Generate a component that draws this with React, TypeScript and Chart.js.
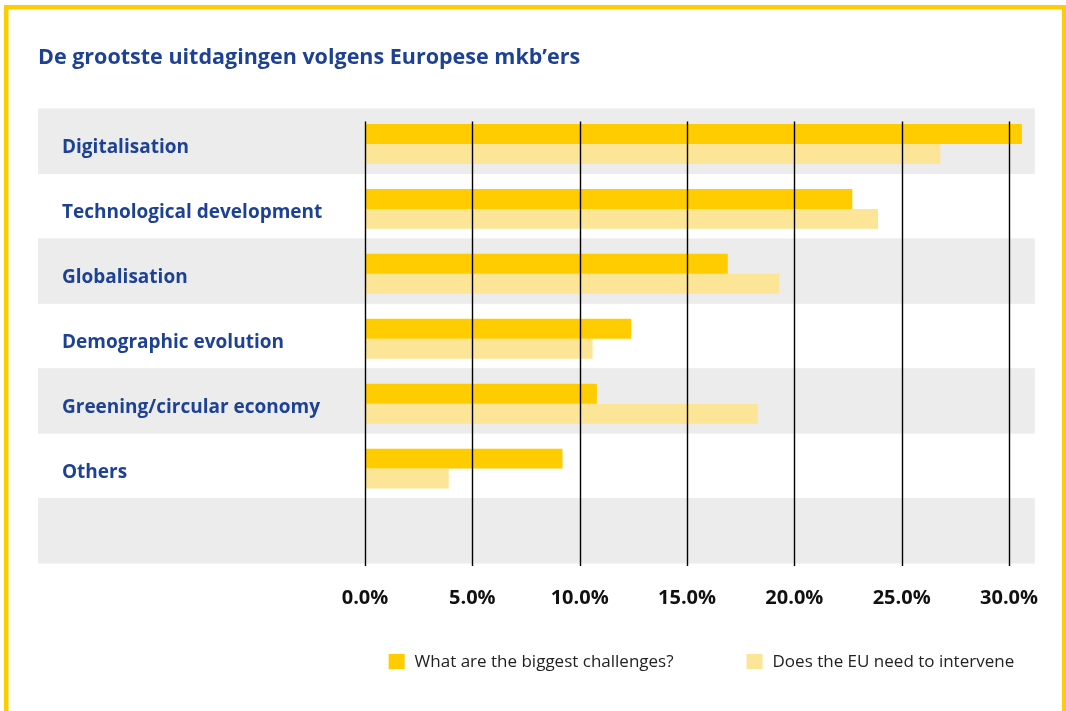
import React, { useEffect, useRef } from 'react';
import { Chart, registerables } from 'chart.js';

Chart.register(...registerables);

const TITLE = 'De grootste uitdagingen volgens Europese mkb’ers';
const categories = [
  'Digitalisation',
  'Technological development',
  'Globalisation',
  'Demographic evolution',
  'Greening/circular economy',
  'Others',
  '',
];
const challengeLabel = 'What are the biggest challenges?';
const interveneLabel = 'Does the EU need to intervene';
const challenges = [30.6, 22.7, 16.9, 12.4, 10.8, 9.2, null];
const intervene = [26.8, 23.9, 19.3, 10.6, 18.3, 3.9, null];
const xMin = 0;
const xMax = 31.2;
const xStep = 5;

const BLUE = '#1d4194';
const YELLOW = '#FFCC00';
const LIGHT = '#FDE597';
const BAND = '#ECECEC';
const FONT = '"Open Sans", "DejaVu Sans", sans-serif';

export default function App() {
  const ref = useRef<HTMLCanvasElement>(null);

  useEffect(() => {
    if (!ref.current) return;

    const decor = {
      id: 'decor',
      beforeDraw(chart: any) {
        const { ctx, chartArea, scales } = chart;
        const y = scales.y;
        ctx.save();
        ctx.fillStyle = '#ffffff';
        ctx.fillRect(0, 0, chart.width, chart.height);
        // frame
        ctx.strokeStyle = YELLOW;
        ctx.lineWidth = 4.5;
        ctx.strokeRect(6.25, 7.25, 1058, 800);
        // title
        ctx.fillStyle = BLUE;
        ctx.font = `bold 21.5px ${FONT}`;
        ctx.textAlign = 'left';
        ctx.textBaseline = 'middle';
        ctx.fillText(TITLE, 38, 58);
        // alternating bands
        ctx.fillStyle = BAND;
        categories.forEach((_, i) => {
          if (i % 2 === 0) {
            const cy = y.getPixelForValue(i);
            ctx.fillRect(38, cy - 35.5, chartArea.right - 38, 65.5);
          }
        });
        ctx.restore();
      },
      afterDatasetsDraw(chart: any) {
        const { ctx, chartArea, scales } = chart;
        const x = scales.x;
        ctx.save();
        ctx.strokeStyle = '#000';
        ctx.lineWidth = 1.4;
        x.ticks.forEach((t: any) => {
          const px = Math.round(x.getPixelForValue(t.value)) + 0.5;
          ctx.beginPath();
          ctx.moveTo(px, chartArea.top + 10);
          ctx.lineTo(px, chartArea.bottom);
          ctx.stroke();
        });
        ctx.restore();
      },
      afterDraw(chart: any) {
        const { ctx, chartArea } = chart;
        const items = chart.data.datasets.map((d: any) => ({ text: d.label, color: d.backgroundColor }));
        ctx.save();
        ctx.font = `17px ${FONT}`;
        ctx.textBaseline = 'middle';
        ctx.textAlign = 'left';
        const boxW = 16;
        const boxH = 15;
        const gap = 10;
        const itemGap = 73;
        const widths = items.map((it: any) => boxW + gap + ctx.measureText(it.text).width);
        const total = widths.reduce((a: number, b: number) => a + b, 0) + itemGap * (items.length - 1);
        let cx = (chartArea.left + chartArea.right) / 2 + 1.5 - total / 2;
        const cy = 661.5;
        items.forEach((it: any, i: number) => {
          ctx.fillStyle = it.color;
          ctx.fillRect(cx, cy - boxH / 2, boxW, boxH);
          ctx.fillStyle = '#222';
          ctx.fillText(it.text, cx + boxW + gap, cy + 1);
          cx += widths[i] + itemGap;
        });
        ctx.restore();
      },
    };

    const chart = new Chart(ref.current, {
      type: 'bar',
      data: {
        labels: categories,
        datasets: [
          {
            label: challengeLabel,
            data: challenges,
            backgroundColor: YELLOW,
            barPercentage: 1,
            categoryPercentage: 40 / 65,
          },
          {
            label: interveneLabel,
            data: intervene,
            backgroundColor: LIGHT,
            barPercentage: 1,
            categoryPercentage: 40 / 65,
          },
        ],
      },
      options: {
        indexAxis: 'y',
        animation: false,
        responsive: true,
        maintainAspectRatio: false,
        layout: { padding: { top: 111.5, left: 62, right: 31.2, bottom: 81 } },
        plugins: {
          legend: { display: false },
          tooltip: { enabled: false },
          title: { display: false },
        },
        scales: {
          y: {
            type: 'category',
            grid: { display: false, drawTicks: false },
            border: { display: false },
            ticks: {
              autoSkip: false,
              crossAlign: 'far',
              padding: 0,
              labelOffset: 4,
              color: BLUE,
              font: { family: FONT, size: 19, weight: 'bold' },
            },
            afterFit(scale: any) {
              scale.width = 303;
            },
          },
          x: {
            min: xMin,
            max: xMax,
            grid: { display: false, drawTicks: false },
            border: { display: false },
            ticks: {
              stepSize: xStep,
              includeBounds: false,
              padding: 20,
              maxRotation: 0,
              color: '#111',
              font: { family: FONT, size: 20, weight: 'bold' },
              callback: (v: any) => Number(v).toFixed(1) + '%',
            },
          },
        },
      },
      plugins: [decor],
    });

    return () => chart.destroy();
  }, []);

  return (
    <div style={{ position: 'absolute', left: 0, top: 0, width: 1066, height: 711 }}>
      <canvas ref={ref} />
    </div>
  );
}
